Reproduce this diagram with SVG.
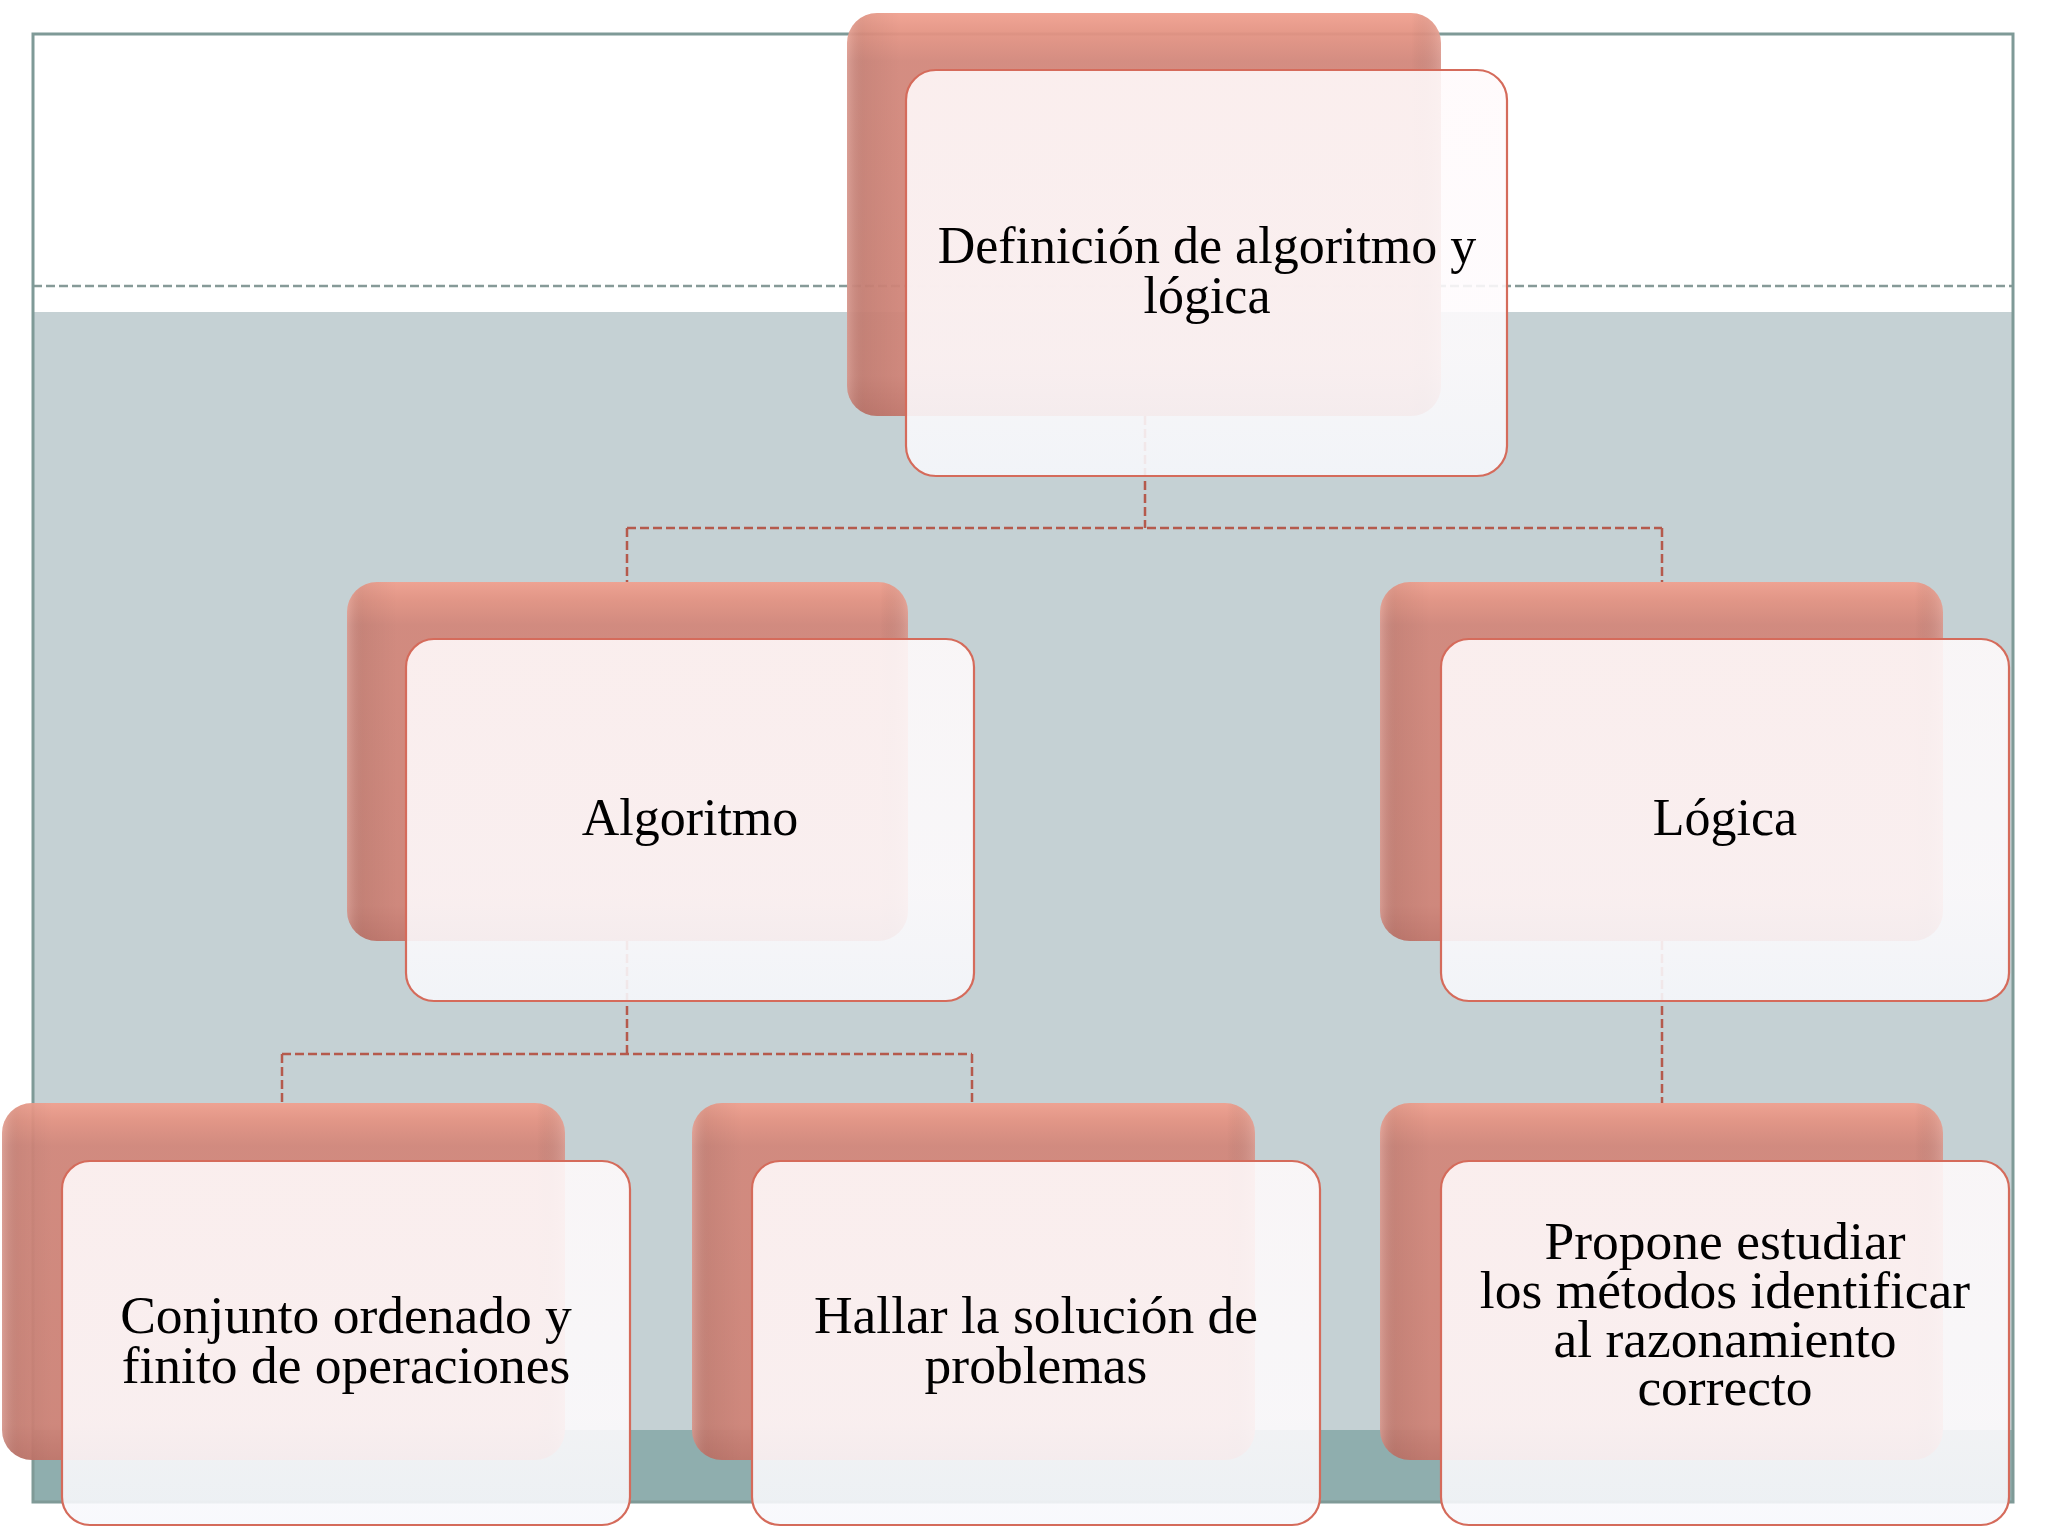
<svg xmlns="http://www.w3.org/2000/svg" width="2048" height="1536" viewBox="0 0 2048 1536">
  <defs>
    <linearGradient id="backGrad" x1="0" y1="0" x2="0" y2="1">
      <stop offset="0" stop-color="#f0a08f"/>
      <stop offset="0.05" stop-color="#e39383"/>
      <stop offset="0.12" stop-color="#d2877b"/>
      <stop offset="0.9" stop-color="#cf8478"/>
      <stop offset="1" stop-color="#c2766b"/>
    </linearGradient>
    <linearGradient id="backSide" x1="0" y1="0" x2="1" y2="0">
      <stop offset="0" stop-color="#ffffff" stop-opacity="0.16"/>
      <stop offset="0.03" stop-color="#000000" stop-opacity="0.05"/>
      <stop offset="0.09" stop-color="#000000" stop-opacity="0"/>
      <stop offset="0.95" stop-color="#000000" stop-opacity="0"/>
      <stop offset="1" stop-color="#ffffff" stop-opacity="0.15"/>
    </linearGradient>
    <linearGradient id="frontGrad" x1="0" y1="0" x2="0" y2="1">
      <stop offset="0" stop-color="#fffafb"/>
      <stop offset="0.7" stop-color="#fefbfd"/>
      <stop offset="1" stop-color="#f7f8fc"/>
    </linearGradient>
  </defs>
  <style>
    .back { fill: url(#backGrad); fill-opacity: 0.95; }
    .backside { fill: url(#backSide); }
    .front { fill: url(#frontGrad); fill-opacity: 0.89; stroke: #d56b5b; stroke-width: 2.2; }
    .conn { fill: none; stroke: #b55a4c; stroke-width: 2.5; stroke-dasharray: 9 4; }
    .label { font-family: "Liberation Serif", "DejaVu Serif", serif; font-size: 52px; fill: #000000; text-anchor: middle; }
    .small { font-size: 53.5px; }
  </style>

  <rect x="0" y="0" width="2048" height="1536" fill="#ffffff"/>

  <g id="background">
    <rect x="33" y="34" width="1980" height="278" fill="#ffffff"/>
    <rect x="33" y="312" width="1980" height="1118" fill="#c5d1d4"/>
    <rect x="33" y="1430" width="1980" height="72" fill="#8faeae"/>
    <line x1="33" y1="286" x2="2013" y2="286" stroke="#869a98" stroke-width="2.5" stroke-dasharray="9 4"/>
    <rect x="33" y="34" width="1980" height="1468" fill="none" stroke="#7f9a97" stroke-width="3"/>
  </g>

  <g id="connectors">
    <path class="conn" d="M1145 416 V528"/>
    <path class="conn" d="M627 528 H1662"/>
    <path class="conn" d="M627 528 V582"/>
    <path class="conn" d="M1662 528 V582"/>
    <path class="conn" d="M627 941 V1054"/>
    <path class="conn" d="M282 1054 H972"/>
    <path class="conn" d="M282 1054 V1103"/>
    <path class="conn" d="M972 1054 V1103"/>
    <path class="conn" d="M1662 941 V1103"/>
  </g>

  <g id="node-definicion">
    <rect class="back" x="847" y="13" width="594" height="403" rx="30"/>
    <rect class="backside" x="847" y="13" width="594" height="403" rx="30"/>
    <rect class="front" x="906" y="70" width="601" height="406" rx="30"/>
    <text class="label" x="1207" y="263">Definición de algoritmo y<tspan x="1207" dy="50">lógica</tspan></text>
  </g>

  <g id="node-algoritmo">
    <rect class="back" x="347" y="582" width="561" height="359" rx="30"/>
    <rect class="backside" x="347" y="582" width="561" height="359" rx="30"/>
    <rect class="front" x="406" y="639" width="568" height="362" rx="28"/>
    <text class="label" x="690" y="835">Algoritmo</text>
  </g>

  <g id="node-logica">
    <rect class="back" x="1380" y="582" width="563" height="359" rx="30"/>
    <rect class="backside" x="1380" y="582" width="563" height="359" rx="30"/>
    <rect class="front" x="1441" y="639" width="568" height="362" rx="28"/>
    <text class="label" x="1725" y="835">Lógica</text>
  </g>

  <g id="node-conjunto">
    <rect class="back" x="2" y="1103" width="563" height="357" rx="30"/>
    <rect class="backside" x="2" y="1103" width="563" height="357" rx="30"/>
    <rect class="front" x="62" y="1161" width="568" height="364" rx="28"/>
    <text class="label small" x="346" y="1333">Conjunto ordenado y<tspan x="346" dy="50">finito de operaciones</tspan></text>
  </g>

  <g id="node-hallar">
    <rect class="back" x="692" y="1103" width="563" height="357" rx="30"/>
    <rect class="backside" x="692" y="1103" width="563" height="357" rx="30"/>
    <rect class="front" x="752" y="1161" width="568" height="364" rx="28"/>
    <text class="label small" x="1036" y="1333">Hallar la solución de<tspan x="1036" dy="50">problemas</tspan></text>
  </g>

  <g id="node-propone">
    <rect class="back" x="1380" y="1103" width="563" height="357" rx="30"/>
    <rect class="backside" x="1380" y="1103" width="563" height="357" rx="30"/>
    <rect class="front" x="1441" y="1161" width="568" height="364" rx="28"/>
    <text class="label small" x="1725" y="1259">Propone estudiar<tspan x="1725" dy="49">los métodos identificar</tspan><tspan x="1725" dy="49">al razonamiento</tspan><tspan x="1725" dy="48">correcto</tspan></text>
  </g>
</svg>
